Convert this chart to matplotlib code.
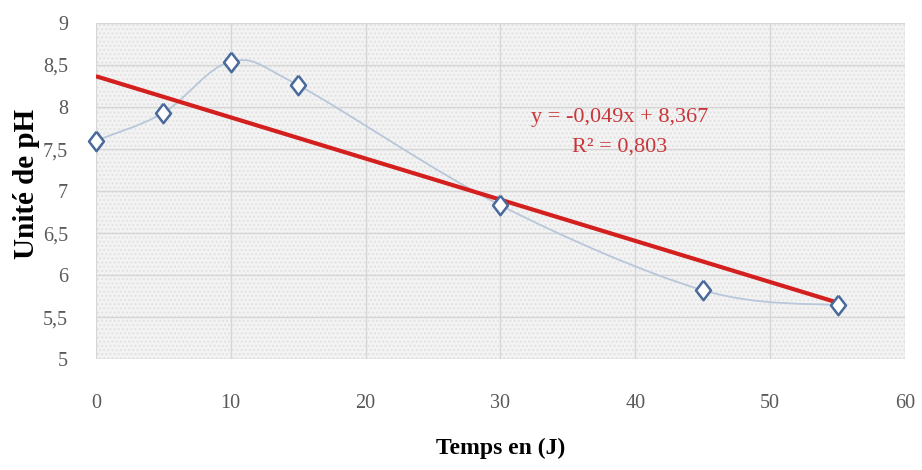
import matplotlib
matplotlib.use("Agg")
import matplotlib.pyplot as plt
from matplotlib.path import Path
from matplotlib.patches import PathPatch, Rectangle
import numpy as np

# data
days = [0, 5, 10, 15, 30, 45, 55]
ph = [7.6, 7.93, 8.54, 8.26, 6.83, 5.82, 5.64]
slope = -0.049
intercept = 8.367
eq_text = "y = -0,049x + 8,367\nR² = 0,803"
xticks = [0, 10, 20, 30, 40, 50, 60]
yticks = [5, 5.5, 6, 6.5, 7, 7.5, 8, 8.5, 9]

plt.rcParams["font.family"] = ["Liberation Serif", "DejaVu Serif"]

fig = plt.figure(figsize=(9.22, 4.70), dpi=100)
ax = fig.add_axes([0.104, 0.236, 0.8776, 0.715])
ax.set_xlim(0, 60)
ax.set_ylim(5, 9)

# dotted grey plot area
ax.set_facecolor("#f3f3f3")
ax.add_patch(Rectangle((0, 5), 60, 4, facecolor="none", edgecolor="#e2e2e2",
                       hatch="....", linewidth=0, zorder=0))
for s in ax.spines.values():
    s.set_visible(False)
ax.grid(True, color="#d6d6d6", linewidth=1.0, zorder=1)
ax.set_axisbelow(True)

# smoothed line (Excel style: Catmull-Rom bezier)
x = np.array(days, float)
y = np.array(ph, float)
verts = [(x[0], y[0])]
codes = [Path.MOVETO]
t = 1 / 6
for i in range(len(x) - 1):
    p0 = (x[max(i - 1, 0)], y[max(i - 1, 0)])
    p1 = (x[i], y[i])
    p2 = (x[i + 1], y[i + 1])
    p3 = (x[min(i + 2, len(x) - 1)], y[min(i + 2, len(x) - 1)])
    c1 = (p1[0] + (p2[0] - p0[0]) * t, p1[1] + (p2[1] - p0[1]) * t)
    c2 = (p2[0] - (p3[0] - p1[0]) * t, p2[1] - (p3[1] - p1[1]) * t)
    verts += [c1, c2, p2]
    codes += [Path.CURVE4] * 3
ax.add_patch(PathPatch(Path(verts, codes), facecolor="none",
                       edgecolor="#b9c7da", linewidth=1.3, zorder=2))

# trend line
xs = np.array([days[0], days[-1]], float)
ax.plot(xs, slope * xs + intercept, color="#d41f1f", linewidth=3, zorder=3,
        solid_capstyle="butt")

# slightly tall diamond like the original
diamond = [(0, 1.3), (1, 0), (0, -1.3), (-1, 0), (0, 1.3)]
ax.plot(days, ph, linestyle="none", marker=diamond, markersize=14,
        markerfacecolor="white", markeredgecolor="#4a6a9c", markeredgewidth=1.8,
        zorder=4, clip_on=False)

ax.text(38.8, 7.70, eq_text, color="#c8363a", fontsize=16, ha="center",
        va="center", linespacing=1.8)

ax.set_xticks(xticks)
ax.set_yticks(yticks)
ax.set_yticklabels([f"{v:g}".replace(".", ",") for v in yticks])
ax.tick_params(length=0, labelsize=14.5, labelcolor="#595959")
ax.tick_params(axis="x", pad=25)
ax.tick_params(axis="y", pad=20)

ax.set_xlabel("Temps en (J)", fontsize=17, fontweight="bold", labelpad=18)
ax.set_ylabel("Unité de pH", fontsize=21, fontweight="bold", va="center")
ax.yaxis.set_label_coords(-0.086, 0.52)

fig.savefig("out.png", dpi=100, facecolor="white")
